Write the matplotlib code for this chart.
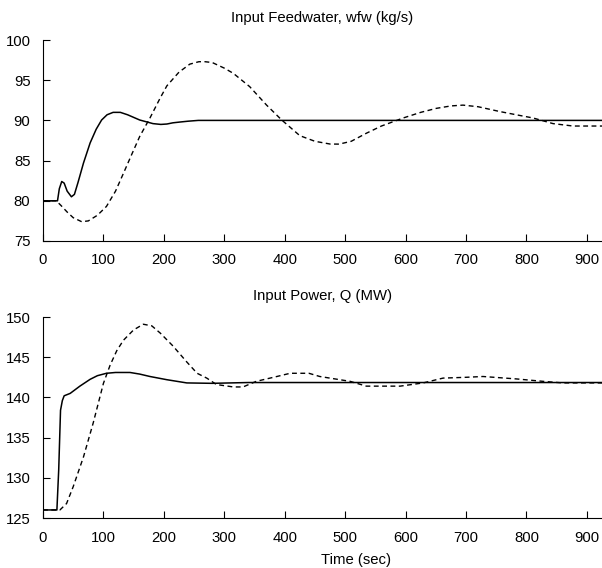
import matplotlib
matplotlib.use("Agg")
import matplotlib.pyplot as plt

plt.rcParams['font.family'] = ['Liberation Sans', 'DejaVu Sans']

# Input feedwater (kg/s)
t_wfw_solid = [0, 24, 27, 31, 35, 40, 47, 52, 58, 67, 78, 88, 97, 106, 116, 128,
               140, 160, 182, 195, 205, 215, 227, 240, 257, 300, 925]
wfw_solid = [80.0, 80.0, 81.5, 82.4, 82.2, 81.2, 80.5, 80.8, 82.3, 84.7, 87.2, 88.9,
             90.05, 90.7, 91.0, 91.0, 90.7, 90.05, 89.6, 89.5, 89.55, 89.7, 89.8, 89.9,
             90.0, 90.0, 90.0]

t_wfw_dash = [0, 22, 30, 40, 50, 64, 75, 90, 105, 120, 133, 147, 160, 177, 194, 205,
              225, 243, 258, 268, 280, 300, 315, 342, 370, 395, 425, 450, 475, 490,
              510, 535, 560, 596, 625, 651, 675, 695, 720, 756, 790, 811, 844, 877,
              900, 925]
wfw_dash = [80.0, 80.0, 79.4, 78.6, 77.9, 77.4, 77.5, 78.2, 79.3, 81.2, 83.4, 85.8,
            88.0, 90.3, 92.8, 94.3, 96.0, 97.0, 97.3, 97.3, 97.2, 96.5, 95.85, 94.2,
            91.9, 90.05, 88.1, 87.4, 87.06, 87.05, 87.4, 88.4, 89.3, 90.3, 91.0,
            91.5, 91.8, 91.9, 91.7, 91.1, 90.6, 90.3, 89.6, 89.3, 89.3, 89.3]

# Input power (MW)
t_q_solid = [0, 23, 26, 29, 32, 35, 45, 61, 78, 90, 105, 120, 144, 160, 177, 205,
             238, 280, 340, 925]
q_solid = [126.0, 126.0, 131.0, 138.4, 139.6, 140.2, 140.5, 141.4, 142.25, 142.7,
           143.0, 143.1, 143.1, 142.9, 142.6, 142.2, 141.8, 141.75, 141.85, 141.85]

t_q_dash = [0, 28, 39, 50, 67, 83, 100, 111, 122, 133, 150, 166, 180, 194, 215, 238,
            255, 271, 287, 315, 331, 353, 387, 409, 440, 458, 508, 535, 560, 591,
            629, 662, 700, 728, 783, 827, 860, 925]
q_dash = [126.0, 126.0, 126.8, 128.9, 132.6, 136.8, 141.75, 144.0, 145.8, 147.1,
          148.4, 149.1, 148.9, 148.0, 146.4, 144.4, 143.0, 142.4, 141.6, 141.3,
          141.3, 142.0, 142.6, 143.0, 143.0, 142.6, 142.0, 141.4, 141.4, 141.4,
          141.8, 142.4, 142.5, 142.6, 142.3, 142.0, 141.8, 141.8]

x_ticks = list(range(0, 1000, 100))

fig = plt.figure(figsize=(6.02, 5.68), dpi=100)
ax1 = fig.add_axes([43 / 602, 1 - 241 / 568, 559 / 602, 201 / 568])
ax2 = fig.add_axes([43 / 602, 1 - 518 / 568, 559 / 602, 201 / 568])

dash = (0, (3.5, 2.5))

ax1.plot(t_wfw_solid, wfw_solid, color='black', lw=1.1)
ax1.plot(t_wfw_dash, wfw_dash, color='black', lw=1.0, linestyle=dash)
ax1.set_ylim(75, 100)
ax1.set_yticks([75, 80, 85, 90, 95, 100])
ax1.set_title('Input Feedwater, wfw (kg/s)', fontsize=10.7, pad=13)

ax2.plot(t_q_solid, q_solid, color='black', lw=1.1)
ax2.plot(t_q_dash, q_dash, color='black', lw=1.0, linestyle=dash)
ax2.set_ylim(125, 150)
ax2.set_yticks([125, 130, 135, 140, 145, 150])
ax2.set_title('Input Power, Q (MW)', fontsize=10.7, pad=12)
ax2.set_xlabel('Time (sec)', fontsize=10.7)
ax2.xaxis.set_label_coords(0.56, -0.175)

for ax in (ax1, ax2):
    ax.set_xlim(0, 925)
    ax.set_xticks(x_ticks)
    ax.spines['top'].set_visible(False)
    ax.spines['right'].set_visible(False)
    ax.tick_params(direction='in', length=5, labelsize=10.7)
    ax.tick_params(axis='x', pad=9)
    ax.tick_params(axis='y', pad=9)

plt.savefig('out.png', dpi=100)
